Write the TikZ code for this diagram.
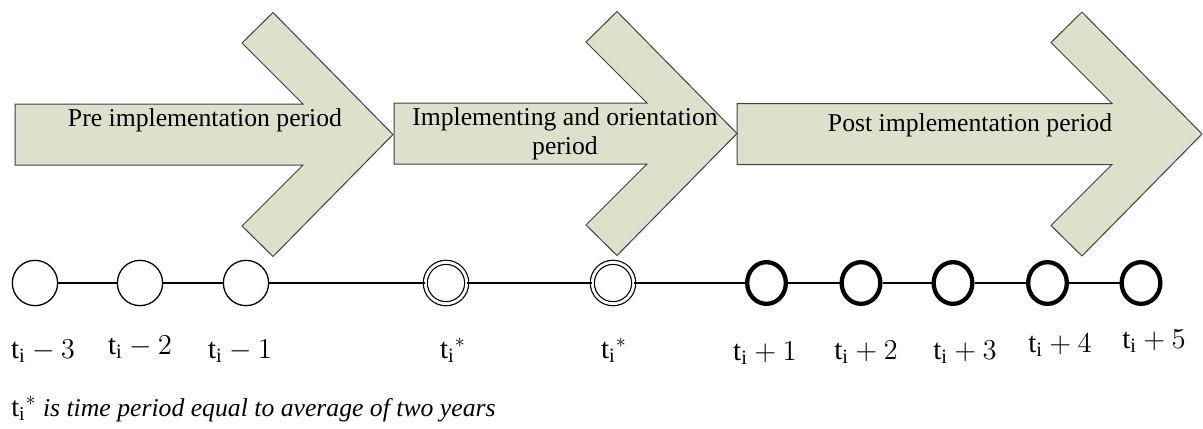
\documentclass[tikz,border=0pt]{standalone}
\usepackage{fontspec}
\setmainfont{Liberation Serif}
\usepackage{xcolor}
\usetikzlibrary{shapes.geometric}
\definecolor{periodfill}{RGB}{221,224,203}

\begin{document}
\begin{tikzpicture}[x=0.5pt, y=-0.5pt,
	period/.style={draw=black!75, line width=0.5pt, fill=periodfill, line join=miter},
	periodtext/.style={font=\fontsize{12.85}{14.5}\selectfont, inner sep=0pt, align=center},
	plain/.style={circle, draw, line width=0.65pt, minimum size=22.65pt, inner sep=0pt},
	twin/.style={circle, draw, double, line width=0.6pt, double distance=1.4pt, minimum size=20.7pt, inner sep=0pt},
	heavy/.style={ellipse, draw, line width=2.15pt, minimum width=19.35pt, minimum height=20.85pt, inner sep=0pt},
	wire/.style={line width=0.6pt},
	ticktext/.style={font=\fontsize{14.5}{16}\selectfont, inner sep=0pt, anchor=base},
]
	\useasboundingbox (0, 0) rectangle (1203, 428);
	% Period arrows:
	\draw[period] (15, 104) -- (303, 104) -- (242, 43) -- (273, 12.5) -- (393, 134.5) -- (273, 256.5) -- (242, 226) -- (303, 165) -- (15, 165) -- cycle;
	\draw[period] (394, 103) -- (647, 103) -- (586, 42) -- (617, 11.5) -- (737, 133.5) -- (617, 255.5) -- (586, 225) -- (647, 164) -- (394, 164) -- cycle;
	\draw[period] (737, 103.5) -- (1112, 103.5) -- (1051, 42.5) -- (1082, 12) -- (1202, 134) -- (1082, 256) -- (1051, 225.5) -- (1112, 164.5) -- (737, 164.5) -- cycle;
	\node[periodtext, anchor=base] (pre) at (205, 126) {Pre implementation period};
	\node[periodtext] (impl) at (565, 134) {Implementing and orientation\\period};
	\node[periodtext, anchor=base] (post) at (970, 131) {Post implementation period};
	% Time points:
	\node[plain] (m3) at (35, 283) {};
	\node[plain] (m2) at (140, 283) {};
	\node[plain] (m1) at (246, 283) {};
	\node[twin] (s1) at (446, 283) {};
	\node[twin] (s2) at (613, 283) {};
	\node[heavy] (p1) at (766.5, 283) {};
	\node[heavy] (p2) at (861, 283) {};
	\node[heavy] (p3) at (953, 283) {};
	\node[heavy] (p4) at (1047.5, 283) {};
	\node[heavy] (p5) at (1141, 283) {};
	\draw[wire] (m3) -- (m2) -- (m1) -- (s1) -- (s2) -- (p1) -- (p2) -- (p3) -- (p4) -- (p5);
	% Labels:
	\node[ticktext] (lm3) at (43, 358) {$\mathrm{t_i} - 3$};
	\node[ticktext] (lm2) at (140, 354) {$\mathrm{t_i} - 2$};
	\node[ticktext] (lm1) at (240, 358) {$\mathrm{t_i} - 1$};
	\node[ticktext] (ls1) at (453, 358) {$\mathrm{t_i}{}^{*}$};
	\node[ticktext] (ls2) at (614, 358) {$\mathrm{t_i}{}^{*}$};
	\node[ticktext] (lp1) at (765, 360) {$\mathrm{t_i} + 1$};
	\node[ticktext] (lp2) at (866, 359) {$\mathrm{t_i} + 2$};
	\node[ticktext] (lp3) at (965, 359) {$\mathrm{t_i} + 3$};
	\node[ticktext] (lp4) at (1060, 352) {$\mathrm{t_i} + 4$};
	\node[ticktext] (lp5) at (1154, 348) {$\mathrm{t_i} + 5$};
	\node[font=\fontsize{12.85}{14.5}\selectfont, inner sep=0pt, anchor=base west] (note) at (11, 416) {{\fontsize{14}{16}\selectfont$\mathrm{t_i}{}^{*}$} \textit{is time period equal to average of two years}};
\end{tikzpicture}
\end{document}
